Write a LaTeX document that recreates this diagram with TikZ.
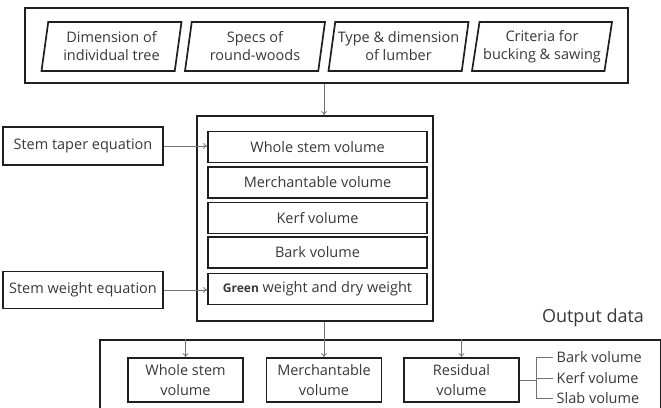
\documentclass[tikz,border=0pt]{standalone}
\usepackage{fontspec}
\setmainfont{Open Sans}
\usepackage{tikz}
\usetikzlibrary{shapes.geometric, arrows.meta}

\begin{document}
\begin{tikzpicture}[x=1pt, y=-1pt]

        % Fix the page to the size of the reference
        \useasboundingbox (0,0) rectangle (661,407);

        % 0. Styles
        \tikzset{
            frame/.style={draw=black!88, line width=1.7pt, rectangle, inner sep=0pt},
            box/.style={frame, text=black!78, align=center, font=\fontsize{14.5}{18}\selectfont},
            inbox/.style={box, trapezium, trapezium left angle=77, trapezium right angle=103,
                trapezium stretches body, minimum width=140, minimum height=49},
            calcbox/.style={box, minimum width=219, minimum height=31},
            outbox/.style={box, minimum width=115, minimum height=44, font=\fontsize{14.5}{20}\selectfont},
            link/.style={draw=black!55, line width=0.8pt, -{To[length=4pt, width=6pt]}},
            brace/.style={draw=black!55, line width=0.8pt}
        }

        % 1. Input data (top row)
        \node[frame, minimum width=603, minimum height=75] (inputs) at (326.5,45.5) {};
        \node[inbox] (tree)   at (111.5,46.5) {Dimension of\\individual tree};
        \node[inbox] (round)  at (255,46.5)   {Specs of\\round-woods};
        \node[inbox] (lumber) at (398.5,46.5) {Type \& dimension\\of lumber};
        \node[inbox] (bucking) at (542,46.5)  {Criteria for\\bucking \& sawing};

        % 2. Calculation block (middle)
        \node[frame, minimum width=236, minimum height=205] (calc) at (315,218.5) {};
        \node[calcbox] (whole)  at (317.5,147)   {Whole stem volume};
        \node[calcbox] (merch)  at (317.5,182.5) {Merchantable volume};
        \node[calcbox] (kerf)   at (317.5,218)   {Kerf volume};
        \node[calcbox] (bark)   at (317.5,252.5) {Bark volume};
        \node[calcbox] (weight) at (317.5,289)
            {{\fontsize{12}{14}\selectfont\bfseries Green} weight and dry weight};

        % 3. Equations (left)
        \node[box, minimum width=160, minimum height=38] (taper)  at (83,146) {Stem taper equation};
        \node[box, minimum width=160, minimum height=37] (sweight) at (83,290) {Stem weight equation};

        % 4. Output data (bottom, runs off the page)
        \node[frame, anchor=north west, minimum width=561, minimum height=120] (output) at (99,339) {};
        \node[text=black!78, font=\fontsize{18}{21}\selectfont] (outlabel) at (593,318) {Output data};
        \node[outbox] (owhole) at (185.5,380) {Whole stem\\volume};
        \node[outbox] (omerch) at (324,380)   {Merchantable\\volume};
        \node[outbox] (oresid) at (461.5,380) {Residual\\volume};

        % residual parts
        \tikzset{part/.style={anchor=west, text=black!78, font=\fontsize{14.5}{16}\selectfont, inner sep=3.5pt}}
        \node[part] (pbark) at (553,357) {Bark volume};
        \node[part] (pkerf) at (553,378) {Kerf volume};
        \node[part] (pslab) at (553,398) {Slab volume};

        % 5. Connectors
        \draw[link] ([xshift=-2.5]inputs.south) -- ([xshift=9]calc.north);
        \draw[link] (taper.east) -- (taper.east -| whole.west);
        \draw[link] (sweight.east) -- (sweight.east -| weight.west);
        \draw[link] (omerch.north |- calc.south) -- (omerch.north);
        \draw[link] (owhole.north |- output.north) -- (owhole.north);
        \draw[link] (oresid.north |- output.north) -- (oresid.north);

        % bracket for the residual parts
        \coordinate (split) at ([xshift=17]oresid.east);
        \draw[brace] (oresid.east) -- (split);
        \draw[brace] (pbark.west) -| (split) |- (pslab.west);
        \draw[brace] (split |- pkerf.west) -- (pkerf.west);

    \end{tikzpicture}
\end{document}
